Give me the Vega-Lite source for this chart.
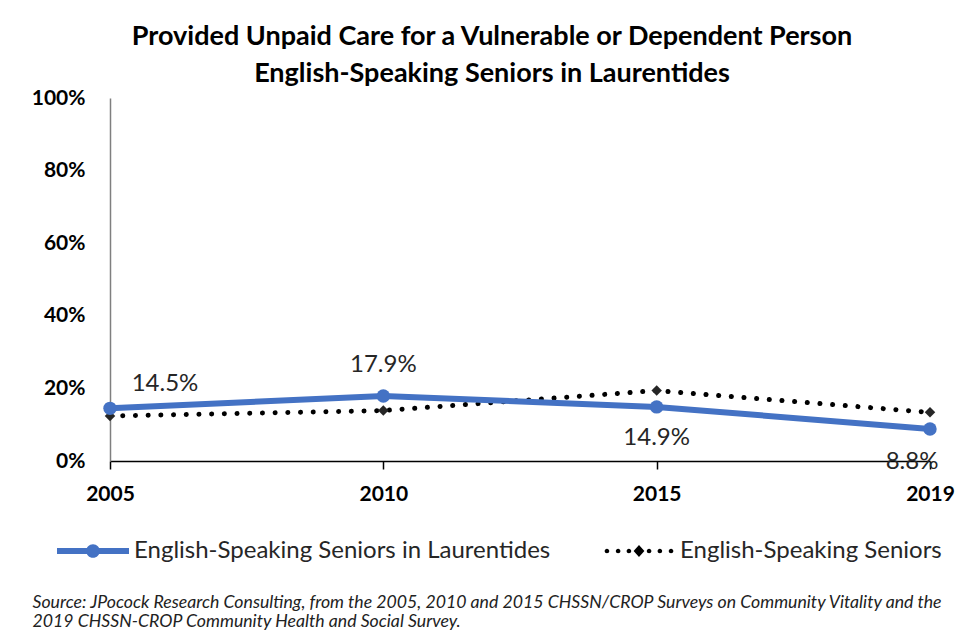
{
  "$schema": "https://vega.github.io/schema/vega-lite/v6.json",
  "width": 820,
  "height": 363,
  "autosize": {"type": "none"},
  "padding": {"left": 110, "top": 98, "right": 50, "bottom": 183},
  "background": "white",
  "config": {
    "view": {"stroke": null},
    "font": "Lato"
  },
  "title": {
    "text": ["Provided Unpaid Care for a Vulnerable or Dependent Person", "English-Speaking Seniors in Laurentides"],
    "font": "Lato",
    "fontSize": 27,
    "fontWeight": "bold",
    "color": "#000000",
    "lineHeight": 37,
    "anchor": "middle",
    "frame": "group",
    "dx": -28,
    "offset": -1
  },
  "data": {
    "values": [
      {"year": "2005", "series": "English-Speaking Seniors in Laurentides", "value": 0.145},
      {"year": "2010", "series": "English-Speaking Seniors in Laurentides", "value": 0.179},
      {"year": "2015", "series": "English-Speaking Seniors in Laurentides", "value": 0.149},
      {"year": "2019", "series": "English-Speaking Seniors in Laurentides", "value": 0.088},
      {"year": "2005", "series": "English-Speaking Seniors", "value": 0.124},
      {"year": "2010", "series": "English-Speaking Seniors", "value": 0.139},
      {"year": "2015", "series": "English-Speaking Seniors", "value": 0.194},
      {"year": "2019", "series": "English-Speaking Seniors", "value": 0.134}
    ]
  },
  "encoding": {
    "x": {
      "field": "year",
      "type": "ordinal",
      "sort": null,
      "scale": {"type": "point", "padding": 0},
      "axis": {
        "title": ["Source: JPocock Research Consulting, from the 2005, 2010  and 2015  CHSSN/CROP Surveys on Community Vitality and the", "2019  CHSSN-CROP Community Health and Social Survey."],
        "titleFont": "Lato",
        "titleFontSize": 17.7,
        "titleFontStyle": "italic",
        "titleFontWeight": "normal",
        "titleColor": "#222222",
        "titleAnchor": "start",
        "titleAlign": "left",
        "titleBaseline": "middle",
        "titleX": -78,
        "titleY": 141,
        "titleLineHeight": 19,
        "labelAngle": 0,
        "labelFont": "Lato",
        "labelFontSize": 21,
        "labelFontWeight": "bold",
        "labelColor": "#000000",
        "labelPadding": 14,
        "labelFlush": false,
        "labelOverlap": false,
        "domainColor": "#000000",
        "domainWidth": 1.5,
        "tickColor": "#000000",
        "tickWidth": 1.5,
        "tickSize": 8,
        "grid": false
      }
    },
    "y": {
      "field": "value",
      "type": "quantitative",
      "scale": {"domain": [0, 1]},
      "axis": {
        "title": null,
        "values": [0, 0.2, 0.4, 0.6, 0.8, 1],
        "format": ".0%",
        "labelFont": "Lato",
        "labelFontSize": 21,
        "labelFontWeight": "bold",
        "labelColor": "#000000",
        "labelPadding": 25,
        "ticks": false,
        "grid": false,
        "domainColor": "#7f7f7f",
        "domainWidth": 1.5
      }
    }
  },
  "layer": [
    {
      "transform": [{"filter": "datum.series === 'English-Speaking Seniors'"}],
      "mark": {"type": "line", "color": "#000000", "strokeWidth": 5, "strokeCap": "round", "strokeDash": [0.1, 12.6]}
    },
    {
      "transform": [{"filter": "datum.series === 'English-Speaking Seniors'"}],
      "mark": {"type": "point", "shape": "diamond", "filled": true, "color": "#262626", "size": 110, "opacity": 1}
    },
    {
      "transform": [{"filter": "datum.series === 'English-Speaking Seniors in Laurentides'"}],
      "mark": {"type": "line", "color": "#4472C4", "strokeWidth": 6}
    },
    {
      "transform": [{"filter": "datum.series === 'English-Speaking Seniors in Laurentides'"}],
      "mark": {"type": "point", "shape": "circle", "filled": true, "color": "#4472C4", "size": 180, "opacity": 1}
    },
    {
      "mark": {"type": "point", "filled": true, "opacity": 1, "size": 0},
      "encoding": {
        "color": {
          "field": "series",
          "type": "nominal",
          "scale": {"domain": ["English-Speaking Seniors in Laurentides", "English-Speaking Seniors"], "range": ["#4472C4", "#000000"]},
          "legend": {
            "orient": "none",
            "legendX": -53,
            "legendY": 417,
            "direction": "horizontal",
            "title": null,
            "symbolSize": 5184,
            "symbolOpacity": 1,
            "symbolStrokeWidth": 0,
            "labelFont": "Lato",
            "labelFontSize": 24,
            "labelColor": "#262626",
            "labelOffset": 5,
            "labelLimit": 0,
            "columnPadding": 52,
            "padding": 0
          }
        },
        "shape": {
          "field": "series",
          "type": "nominal",
          "scale": {
            "domain": ["English-Speaking Seniors in Laurentides", "English-Speaking Seniors"],
            "range": [
              "M-1,-0.085H1V0.085H-1Z M0.19,0A0.19,0.19 0 1,1 -0.19,0A0.19,0.19 0 1,1 0.19,0Z",
              "M-0.826,0A0.064,0.064 0 1,1 -0.954,0A0.064,0.064 0 1,1 -0.826,0Z M-0.516,0A0.064,0.064 0 1,1 -0.644,0A0.064,0.064 0 1,1 -0.516,0Z M-0.216,0A0.064,0.064 0 1,1 -0.344,0A0.064,0.064 0 1,1 -0.216,0Z M0.344,0A0.064,0.064 0 1,1 0.216,0A0.064,0.064 0 1,1 0.344,0Z M0.644,0A0.064,0.064 0 1,1 0.516,0A0.064,0.064 0 1,1 0.644,0Z M0.954,0A0.064,0.064 0 1,1 0.826,0A0.064,0.064 0 1,1 0.954,0Z M0,-0.17L0.15,0L0,0.17L-0.15,0Z"
            ]
          }
        }
      }
    },
    {
      "transform": [{"filter": "datum.series === 'English-Speaking Seniors in Laurentides' && datum.year === '2005'"}],
      "mark": {"type": "text", "font": "Lato", "fontSize": 24, "color": "#262626", "dx": 55, "dy": -24},
      "encoding": {"text": {"field": "value", "type": "quantitative", "format": ".1%"}}
    },
    {
      "transform": [{"filter": "datum.series === 'English-Speaking Seniors in Laurentides' && datum.year === '2010'"}],
      "mark": {"type": "text", "font": "Lato", "fontSize": 24, "color": "#262626", "dy": -31},
      "encoding": {"text": {"field": "value", "type": "quantitative", "format": ".1%"}}
    },
    {
      "transform": [{"filter": "datum.series === 'English-Speaking Seniors in Laurentides' && datum.year === '2015'"}],
      "mark": {"type": "text", "font": "Lato", "fontSize": 24, "color": "#262626", "dy": 31},
      "encoding": {"text": {"field": "value", "type": "quantitative", "format": ".1%"}}
    },
    {
      "transform": [{"filter": "datum.series === 'English-Speaking Seniors in Laurentides' && datum.year === '2019'"}],
      "mark": {"type": "text", "font": "Lato", "fontSize": 24, "color": "#262626", "dx": -18, "dy": 33},
      "encoding": {"text": {"field": "value", "type": "quantitative", "format": ".1%"}}
    }
  ]
}
